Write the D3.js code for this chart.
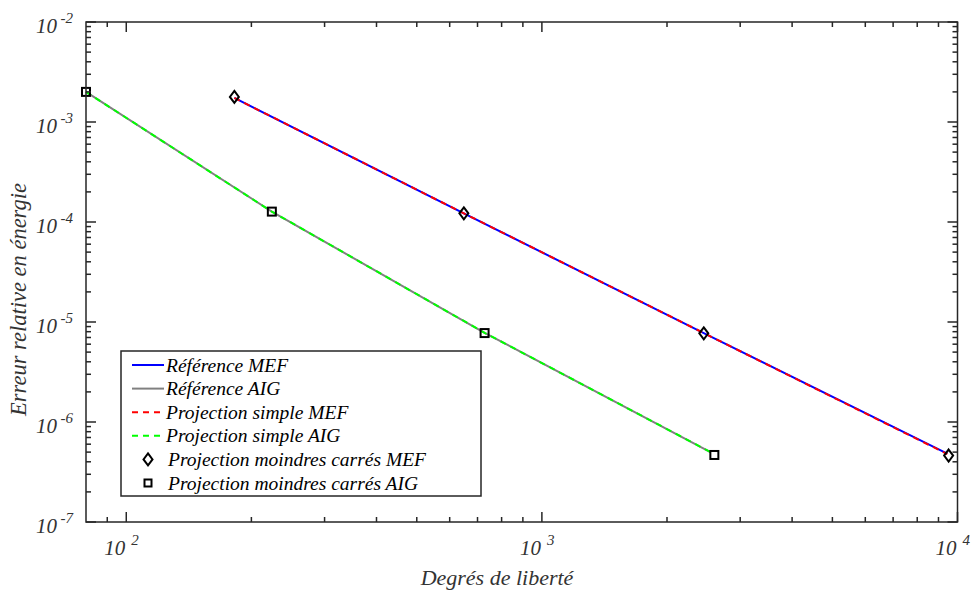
<!DOCTYPE html>
<html><head><meta charset="utf-8">
<script src="https://cdn.jsdelivr.net/npm/d3@7"></script>
<style>body{margin:0;background:#fff}svg{display:block}</style>
</head><body>
<svg id="c" width="975" height="590"></svg>
<script>
// ---- data ----
const dofMEF      = [182, 649, 2452, 9450];
const refMEF      = [1.74e-3, 1.22e-4, 7.75e-6, 4.82e-7];
const simpleMEF   = [1.74e-3, 1.22e-4, 7.75e-6, 4.78e-7];
const dofMEFls    = [182, 649, 2452, 9520];
const lsMEF       = [1.78e-3, 1.22e-4, 7.7e-6, 4.62e-7];

const dofAIG      = [80, 224, 728, 2550];
const refAIG      = [2.0e-3, 1.27e-4, 7.8e-6, 4.98e-7];
const simpleAIG   = [2.0e-3, 1.27e-4, 7.8e-6, 4.98e-7];
const dofAIGls    = [80, 224, 728, 2600];
const lsAIG       = [2.0e-3, 1.27e-4, 7.75e-6, 4.68e-7];

const xMajor = [1e2, 1e3, 1e4];
const xMajorExp = ["2", "3", "4"];
const yMajor = [1e-7, 1e-6, 1e-5, 1e-4, 1e-3, 1e-2];
const yMajorExp = ["-7", "-6", "-5", "-4", "-3", "-2"];
const legendLabels = ["Référence MEF", "Référence AIG", "Projection simple MEF",
  "Projection simple AIG", "Projection moindres carrés MEF", "Projection moindres carrés AIG"];
const xTitle = "Degrés de liberté";
const yTitle = "Erreur relative en énergie";

// ---- layout ----
const L = 86, R = 957.5, T = 22, B = 522;
const axisCol = "#262626";
const font = "'Liberation Serif','Times New Roman',serif";
const svg = d3.select("#c");
const x = d3.scaleLog().domain([80, 10000]).range([L, R]);
const y = d3.scaleLog().domain([1e-7, 1e-2]).range([B, T]);

// minor ticks
const xMinor = [];
[10, 100, 1000].forEach(d => { for (let k = 2; k <= 9; k++) { const v = d * k; if (v > 80 && v < 10000) xMinor.push(v); } });
const yMinor = [];
[1e-7, 1e-6, 1e-5, 1e-4, 1e-3].forEach(d => { for (let k = 2; k <= 9; k++) yMinor.push(d * k); });

const g = svg.append("g");
// data lines
const line = (xs, ys) => d3.line().x((d, i) => x(xs[i])).y(d => y(d))(ys);
function drawLine(xs, ys, col, dash) {
  g.append("path").attr("d", line(xs, ys)).attr("fill", "none").attr("stroke", col)
    .attr("stroke-width", 2).attr("stroke-dasharray", dash || null);
}
drawLine(dofMEF, refMEF, "#0000ff");
drawLine(dofAIG, refAIG, "#808080");
drawLine(dofMEF, simpleMEF, "#ff0000", "6,5");
drawLine(dofAIG, simpleAIG, "#00ff00", "6,5");

const diamond = (cx, cy) => `M${cx},${cy - 6}L${cx + 4.5},${cy}L${cx},${cy + 6}L${cx - 4.5},${cy}Z`;
g.selectAll(".dm").data(lsMEF).enter().append("path")
  .attr("d", (d, i) => diamond(x(dofMEFls[i]), y(d)))
  .attr("fill", "none").attr("stroke", "#000").attr("stroke-width", 2);
g.selectAll(".sq").data(lsAIG).enter().append("rect")
  .attr("x", (d, i) => x(dofAIGls[i]) - 4).attr("y", d => y(d) - 4)
  .attr("width", 8).attr("height", 8)
  .attr("fill", "none").attr("stroke", "#000").attr("stroke-width", 2);

// axes box & ticks
const ax = svg.append("g").attr("stroke", axisCol).attr("stroke-width", 1.5);
ax.append("rect").attr("x", L).attr("y", T).attr("width", R - L).attr("height", B - T).attr("fill", "none");
function xt(vals, len) {
  vals.forEach(v => {
    const px = x(v);
    ax.append("line").attr("x1", px).attr("x2", px).attr("y1", B).attr("y2", B - len);
    ax.append("line").attr("x1", px).attr("x2", px).attr("y1", T).attr("y2", T + len);
  });
}
function yt(vals, len) {
  vals.forEach(v => {
    const py = y(v);
    ax.append("line").attr("x1", L).attr("x2", L + len).attr("y1", py).attr("y2", py);
    ax.append("line").attr("x1", R).attr("x2", R - len).attr("y1", py).attr("y2", py);
  });
}
xt(xMinor, 5); xt(xMajor, 10);
yt(yMinor, 5); yt(yMajor, 10);

// tick labels
const tl = svg.append("g").attr("font-family", font).attr("font-style", "italic").attr("fill", "#333");
xMajor.forEach((v, i) => {
  const px = x(v);
  tl.append("text").attr("x", px - 1).attr("y", 555).attr("text-anchor", "end").attr("font-size", 21).text("10");
  tl.append("text").attr("x", px + 5).attr("y", 545).attr("font-size", 15).text(xMajorExp[i]);
});
yMajor.forEach((v, i) => {
  const py = y(v);
  tl.append("text").attr("x", 57).attr("y", py + 11).attr("text-anchor", "end").attr("font-size", 21).text("10");
  tl.append("text").attr("x", 60.5).attr("y", py + 0.5).attr("font-size", 15).text(yMajorExp[i]);
});

// titles
tl.append("text").attr("x", 497).attr("y", 585).attr("text-anchor", "middle").attr("font-size", 22).text(xTitle);
tl.append("text").attr("transform", `translate(26,299.5) rotate(-90)`)
  .attr("text-anchor", "middle").attr("font-size", 22.5).text(yTitle);

// legend
const lg = svg.append("g");
lg.append("rect").attr("x", 121).attr("y", 351).attr("width", 360).attr("height", 145)
  .attr("fill", "#fff").attr("stroke", axisCol).attr("stroke-width", 1.5);
const lgCols = ["#0000ff", "#808080", "#ff0000", "#00ff00"];
const lgDash = [null, null, "6,5", "6,5"];
legendLabels.forEach((lab, i) => {
  const cy = 365 + i * 23.6;
  if (i < 4) {
    lg.append("line").attr("x1", 132).attr("x2", 164).attr("y1", cy).attr("y2", cy)
      .attr("stroke", lgCols[i]).attr("stroke-width", 2).attr("stroke-dasharray", lgDash[i]);
  } else if (i === 4) {
    lg.append("path").attr("d", diamond(148, cy)).attr("fill", "none").attr("stroke", "#000").attr("stroke-width", 2);
  } else {
    lg.append("rect").attr("x", 144.5).attr("y", cy - 3.5).attr("width", 7).attr("height", 7)
      .attr("fill", "none").attr("stroke", "#000").attr("stroke-width", 2);
  }
  lg.append("text").attr("x", i < 4 ? 166 : 168).attr("y", cy + 6.5).attr("font-family", font)
    .attr("font-style", "italic").attr("font-size", 19.5).attr("fill", "#000").text(lab);
});
</script>
</body></html>
